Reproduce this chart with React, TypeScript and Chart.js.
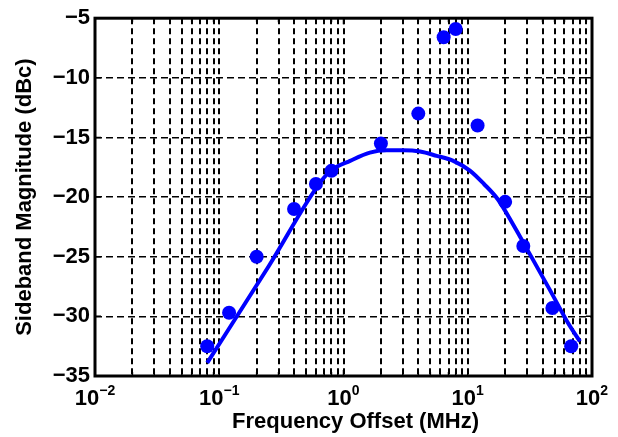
import React, { useEffect, useRef } from 'react';
import { Chart, registerables } from 'chart.js';

Chart.register(...registerables);

// Measured sideband points
const markerFreq = [0.08, 0.12, 0.2, 0.4, 0.6, 0.8, 2, 4, 6.4, 8, 12, 20, 28, 48, 68];
const markerMag = [-32.5, -29.7, -25.0, -21.0, -18.9, -17.8, -15.5, -13.0, -6.6, -5.9, -14.0, -20.4, -24.1, -29.3, -32.5];

// Fitted curve
const fitFreq = [0.08, 0.25, 0.667, 0.8, 1.13, 1.63, 2.23, 3.03, 4.13, 5.62, 7.65, 10.4, 13.5, 17.5, 23.3, 30.7, 45.9, 64.5, 80];
const fitMag = [-33.9, -25.8, -18.6, -17.75, -16.96, -16.27, -16.08, -16.08, -16.18, -16.54, -16.96, -17.78, -18.9, -20.2, -22.34, -24.55, -27.8, -30.6, -32.1];

// Axis ticks
const xDecades = [-2, -1, 0, 1, 2];
const xTickBase = '10';
const xTickExponents = ['\u22122', '\u22121', '0', '1', '2'];
const yTicks = [-35, -30, -25, -20, -15, -10, -5];
const xTitle = 'Frequency Offset (MHz)';
const yTitle = 'Sideband Magnitude (dBc)';

const FONT = "'Liberation Sans', Arial, Helvetica, sans-serif";
const BLUE = '#0000ff';

function xTickValues(): number[] {
  const vals: number[] = [];
  for (let i = 0; i < xDecades.length - 1; i++) {
    const base = Math.pow(10, xDecades[i]);
    for (let k = 1; k <= 9; k++) vals.push(Number((k * base).toPrecision(3)));
  }
  vals.push(Math.pow(10, xDecades[xDecades.length - 1]));
  return vals;
}

export default function App() {
  const ref = useRef<HTMLCanvasElement>(null);

  useEffect(() => {
    if (!ref.current) return;

    const framePlugin = {
      id: 'frame',
      afterDraw(chart: any) {
        const { ctx, chartArea } = chart;
        const { left, right, top, bottom } = chartArea;
        const xs = chart.scales.x;
        const ys = chart.scales.y;
        ctx.save();
        ctx.strokeStyle = '#000';
        ctx.lineWidth = 1.5;
        ctx.setLineDash([]);
        // x ticks (inward, top & bottom)
        xs.ticks.forEach((t: any) => {
          const px = xs.getPixelForValue(t.value);
          const isDecade = Math.abs(Math.log10(t.value) - Math.round(Math.log10(t.value))) < 1e-6;
          const len = isDecade ? 6 : 4;
          ctx.beginPath();
          ctx.moveTo(px, bottom);
          ctx.lineTo(px, bottom - len);
          ctx.moveTo(px, top);
          ctx.lineTo(px, top + len);
          ctx.stroke();
        });
        // y ticks (inward, left & right)
        ys.ticks.forEach((t: any) => {
          const py = ys.getPixelForValue(t.value);
          ctx.beginPath();
          ctx.moveTo(left, py);
          ctx.lineTo(left + 6, py);
          ctx.moveTo(right, py);
          ctx.lineTo(right - 6, py);
          ctx.stroke();
        });
        // frame
        ctx.lineWidth = 3;
        ctx.strokeRect(left, top, right - left, bottom - top);

        // x tick labels: 10 with superscript exponent
        ctx.fillStyle = '#000';
        ctx.textBaseline = 'alphabetic';
        ctx.textAlign = 'left';
        const baseFont = `bold 22px ${FONT}`;
        const expFont = `bold 14px ${FONT}`;
        xDecades.forEach((d, i) => {
          const px = xs.getPixelForValue(Math.pow(10, d));
          ctx.font = baseFont;
          const wb = ctx.measureText(xTickBase).width;
          ctx.font = expFont;
          const we = ctx.measureText(xTickExponents[i]).width;
          const x0 = px - (wb + we) / 2;
          ctx.font = baseFont;
          ctx.fillText(xTickBase, x0, bottom + 29);
          ctx.font = expFont;
          ctx.fillText(xTickExponents[i], x0 + wb, bottom + 19);
        });

        // x axis title
        ctx.font = baseFont;
        ctx.textAlign = 'center';
        ctx.fillText(xTitle, (left + right) / 2 + 12, bottom + 52);
        ctx.restore();
      },
    };

    const chart = new Chart(ref.current, {
      type: 'scatter',
      data: {
        datasets: [
          {
            label: 'Measured',
            data: markerFreq.map((f, i) => ({ x: f, y: markerMag[i] })),
            backgroundColor: BLUE,
            borderColor: BLUE,
            borderWidth: 0,
            pointRadius: 7,
            pointHoverRadius: 7,
            showLine: false,
            clip: false as any,
            order: 1,
          },
          {
            label: 'Fit',
            data: fitFreq.map((f, i) => ({ x: f, y: fitMag[i] })),
            borderColor: BLUE,
            backgroundColor: BLUE,
            borderWidth: 4,
            pointRadius: 0,
            showLine: true,
            cubicInterpolationMode: 'monotone',
            clip: false as any,
            order: 2,
          },
        ],
      },
      options: {
        responsive: false,
        animation: false,
        events: [],
        layout: { padding: { left: 0, top: 14, right: 26, bottom: 0 } },
        plugins: {
          legend: { display: false },
          tooltip: { enabled: false },
        },
        scales: {
          x: {
            type: 'logarithmic',
            min: 0.01,
            max: 100,
            afterBuildTicks: (scale: any) => {
              scale.ticks = xTickValues().map((v) => ({ value: v }));
            },
            afterFit: (scale: any) => {
              scale.height = 61;
            },
            grid: {
              color: '#000',
              lineWidth: 2,
              drawTicks: false,
            },
            border: { display: false, dash: [6, 4] },
            ticks: { display: false, autoSkip: false },
            title: { display: false, text: xTitle },
          },
          y: {
            type: 'linear',
            min: -35,
            max: -5,
            afterBuildTicks: (scale: any) => {
              scale.ticks = yTicks.map((v) => ({ value: v }));
            },
            afterFit: (scale: any) => {
              scale.width = 95;
            },
            grid: {
              color: '#000',
              lineWidth: 1.5,
              drawTicks: false,
            },
            border: { display: false, dash: [7, 4] },
            ticks: {
              padding: 5,
              color: '#000',
              font: { family: FONT, size: 22, weight: 'bold' },
              callback: (value: any) => String(value).replace('-', '\u2212'),
            },
            title: {
              display: true,
              text: yTitle,
              color: '#000',
              font: { family: FONT, size: 22, weight: 'bold' },
              padding: { top: 12, bottom: 0 },
            },
          },
        },
      },
      plugins: [framePlugin],
    } as any);

    return () => chart.destroy();
  }, []);

  return (
    <div style={{ position: 'fixed', left: 0, top: 0, width: 618, height: 437, background: '#fff' }}>
      <canvas ref={ref} width={618} height={437} style={{ display: 'block' }} />
    </div>
  );
}
